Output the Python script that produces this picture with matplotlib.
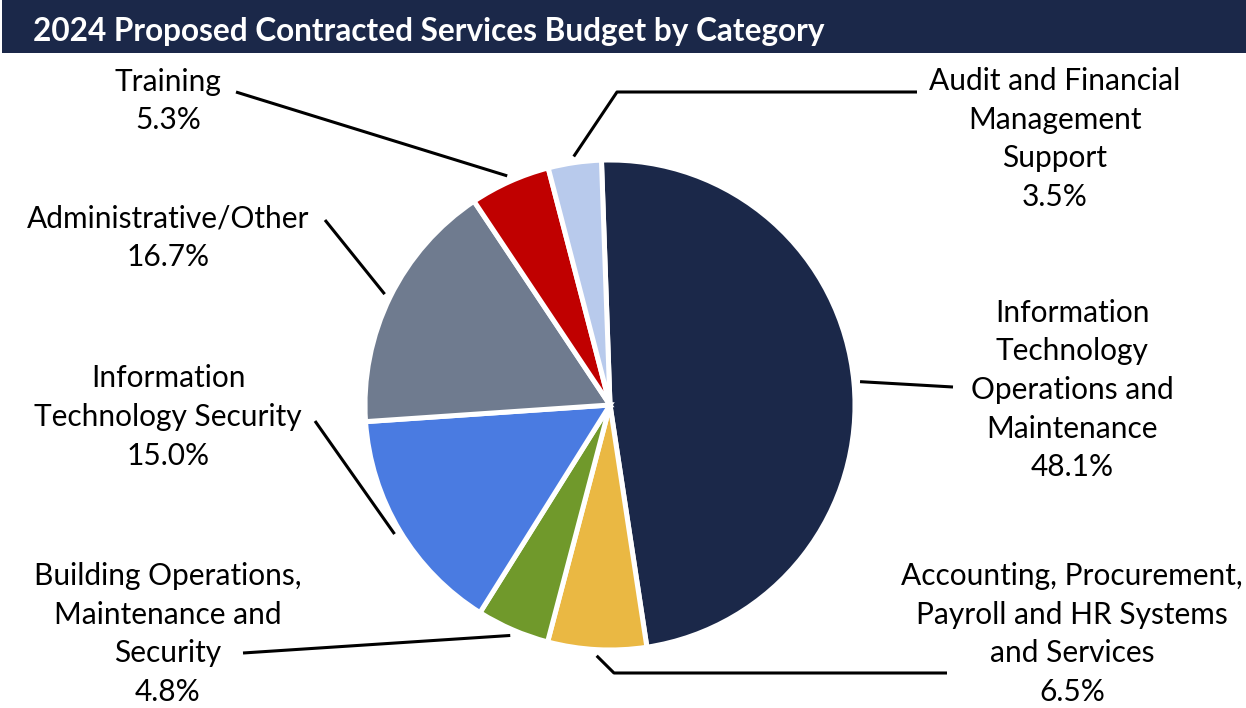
import numpy as np
import matplotlib.pyplot as plt
from matplotlib.patches import Rectangle

# Budget shares by category (percent), clockwise from the top
categories = [
    'Information\nTechnology\nOperations and\nMaintenance',
    'Accounting, Procurement,\nPayroll and HR Systems\nand Services',
    'Building Operations,\nMaintenance and\nSecurity',
    'Information\nTechnology Security',
    'Administrative/Other',
    'Training',
    'Audit and Financial\nManagement\nSupport',
]
shares = [48.1, 6.5, 4.8, 15.0, 16.7, 5.3, 3.5]
colors = ['#1b2849', '#eab843', '#70992b', '#4a7be1', '#6f7b8f', '#c00000', '#b8caec']

W, H = 1246, 708
NAVY = '#1b2849'

# label block centres and leader-line paths (pixels from top-left)
label_pos = [(1072, 390), (1072, 634), (168, 634), (168, 417),
             (168, 238), (168, 101), (1055, 139)]
leader_path = [
    [(953, 387)],
    [(614, 673), (947, 673)],
    [(243, 653)],
    [(315, 421)],
    [(325, 220)],
    [(236, 92)],
    [(617, 92), (917, 92)],
]

plt.rcParams['font.family'] = ['Lato', 'DejaVu Sans']

fig = plt.figure(figsize=(W / 100, H / 100), dpi=100)
ax = fig.add_axes([0, 0, 1, 1])

cx, cy, R = 610, H - 405, 245
wedges, _ = ax.pie(shares, colors=colors, startangle=92, counterclock=False,
                   center=(cx, cy), radius=R,
                   wedgeprops=dict(edgecolor='white', linewidth=3.6))

ax.set_xlim(0, W)
ax.set_ylim(0, H)
ax.set_aspect('equal')
ax.axis('off')

# leader lines start on the rim at each wedge's mid angle
for w, path, (lx, ly), name, val in zip(wedges, leader_path, label_pos,
                                        categories, shares):
    mid = np.deg2rad((w.theta1 + w.theta2) / 2)
    r0 = R * 1.025
    xs = [cx + r0 * np.cos(mid)] + [p[0] for p in path]
    ys = [cy + r0 * np.sin(mid)] + [H - p[1] for p in path]
    ax.plot(xs, ys, color='black', lw=2.2, solid_capstyle='butt')
    ax.text(lx, H - ly, f'{name}\n{val:.1f}%', ha='center', va='center',
            fontsize=21.5, linespacing=1.46, color='black')

# title bar
ax.add_patch(Rectangle((2, H - 53), W - 2, 53, facecolor=NAVY,
                       edgecolor='none', zorder=5))
ax.text(33, H - 31, '2024 Proposed Contracted Services Budget by Category',
        color='white', fontsize=22.7, fontweight='bold', ha='left',
        va='center', zorder=6)

fig.savefig('out.png', dpi=100)
